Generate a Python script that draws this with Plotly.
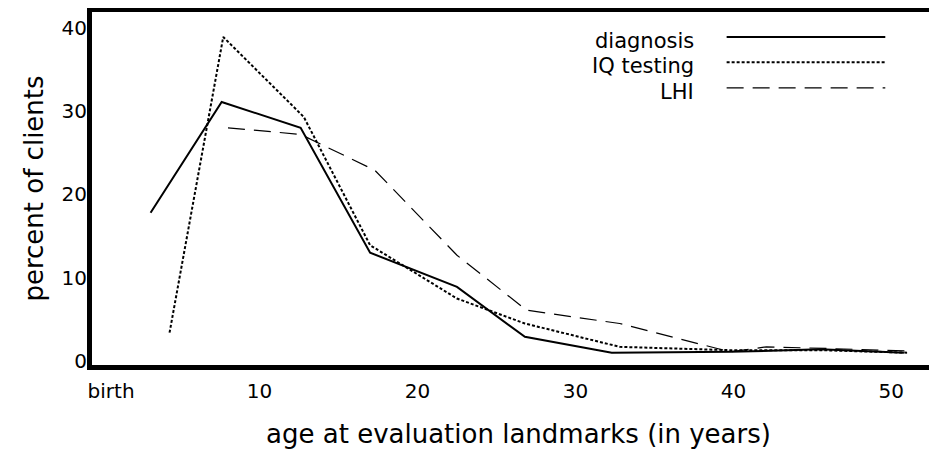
import plotly.graph_objects as go

diag_age = [3.1, 7.6, 12.6, 17.0, 22.5, 26.8, 32.3, 39.8, 45.5, 50.8]
diag_pct = [17.8, 31.1, 28.0, 13.0, 8.9, 2.9, 1.0, 1.1, 1.4, 1.0]

iq_age = [4.3, 7.7, 12.8, 17.0, 22.5, 26.8, 32.8, 39.8, 45.5, 51.0]
iq_pct = [3.4, 38.9, 29.3, 13.9, 7.5, 4.5, 1.7, 1.3, 1.3, 1.0]

lhi_age = [8.0, 12.6, 17.3, 22.5, 26.9, 32.8, 39.8, 42.1, 46.0, 51.2]
lhi_pct = [28.0, 27.2, 22.9, 12.7, 6.1, 4.5, 1.1, 1.7, 1.5, 1.2]

x_ticks = [0.6, 10, 20, 30, 40, 50]
x_labels = ["birth", "10", "20", "30", "40", "50"]
y_ticks = [0, 10, 20, 30, 40]

FONT = "DejaVu Sans"

series = [
    ("diagnosis", diag_age, diag_pct, dict(color="black", width=2, dash="solid")),
    ("IQ testing", iq_age, iq_pct, dict(color="black", width=2, dash="3px,2px")),
    ("LHI", lhi_age, lhi_pct, dict(color="black", width=1.2, dash="17px,9px")),
]

fig = go.Figure()
for name, xs, ys, line in series:
    fig.add_trace(go.Scatter(x=xs, y=ys, mode="lines", name=name, line=line,
                             showlegend=False))

# hand-made legend: label on the left, line sample on the right
leg_y = [0.929, 0.858, 0.785]
for (name, _, _, line), yy in zip(series, leg_y):
    fig.add_annotation(x=0.705, y=yy - 0.011, xref="paper", yref="paper", text=name,
                       showarrow=False, xanchor="right", yanchor="middle",
                       xshift=3, font=dict(family=FONT, size=21, color="black"))
    fig.add_shape(type="line", xref="paper", yref="paper", x0=0.744, x1=0.930,
                  y0=yy, y1=yy, line=line)

fig.update_layout(
    width=937, height=457,
    margin=dict(l=84, r=0, t=4, b=100),
    paper_bgcolor="white", plot_bgcolor="white",
    font=dict(family=FONT, color="black"),
    xaxis=dict(range=[-0.61, 53.4], tickvals=x_ticks, ticktext=x_labels,
               showgrid=False, zeroline=False, showline=True, linewidth=5,
               linecolor="black", mirror=True, ticks="", automargin=False,
               tickfont=dict(size=20), ticklabelstandoff=4,
               title=dict(text="age at evaluation landmarks (in years)",
                          font=dict(size=26), standoff=24)),
    yaxis=dict(range=[-0.48, 41.9], tickvals=y_ticks, showgrid=False,
               zeroline=False, showline=True, linewidth=5, linecolor="black",
               ticks="", automargin=False, tickfont=dict(size=20),
               ticklabelstandoff=-4,
               title=dict(text="percent of clients", font=dict(size=26),
                          standoff=12)),
)

fig.write_html("out.html")
